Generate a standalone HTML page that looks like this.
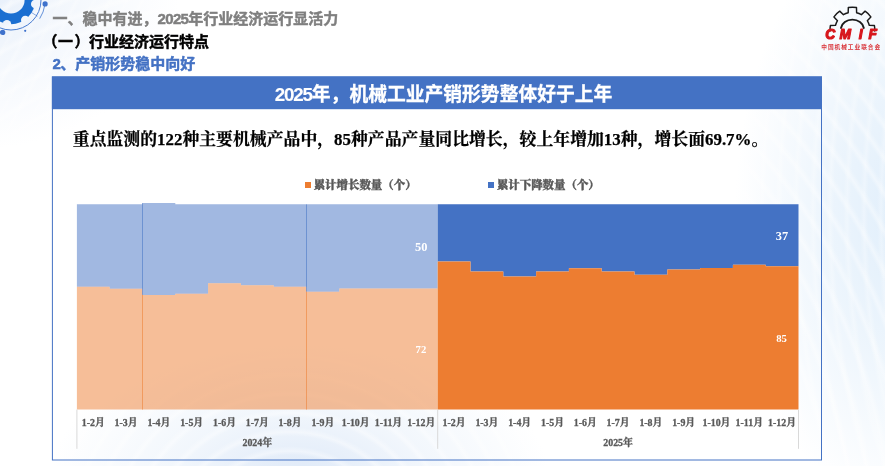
<!DOCTYPE html>
<html lang="zh-CN">
<head>
<meta charset="utf-8">
<title>2025年，机械工业产销形势整体好于上年</title>
<style>
html,body{margin:0;padding:0;}
body{width:885px;height:466px;overflow:hidden;background:#fff;position:relative;font-family:"Liberation Sans","Noto Sans CJK SC",sans-serif;}
.bg{position:absolute;left:0;top:0;width:885px;height:466px;
background:
 repeating-linear-gradient(118deg, rgba(255,255,255,0) 0px, rgba(255,255,255,0) 7px, rgba(255,255,255,.3) 10px, rgba(255,255,255,0) 14px, rgba(255,255,255,0) 23px, rgba(255,255,255,.2) 25px, rgba(255,255,255,0) 29px) 0 0/330px 200px no-repeat,
 repeating-radial-gradient(circle at 1010px 215px, rgba(255,255,255,0) 0px, rgba(255,255,255,0) 9px, rgba(255,255,255,.28) 13px, rgba(255,255,255,0) 17px) 700px 0/185px 466px no-repeat,
 repeating-radial-gradient(circle at 290px 560px, rgba(255,255,255,0) 0px, rgba(255,255,255,0) 10px, rgba(255,255,255,.4) 14px, rgba(255,255,255,0) 19px),
 radial-gradient(ellipse 170px 300px at 905px 215px, rgba(224,238,251,1) 0%, rgba(233,243,252,.85) 45%, rgba(255,255,255,0) 100%),
 radial-gradient(ellipse 250px 140px at 300px 480px, rgba(222,233,248,1) 0%, rgba(236,243,251,.7) 50%, rgba(255,255,255,0) 100%),
 radial-gradient(ellipse 210px 160px at -30px -10px, rgba(228,237,250,1) 0%, rgba(240,245,252,.8) 45%, rgba(255,255,255,0) 100%);
}
.h{position:absolute;white-space:nowrap;font-weight:bold;font-size:15px;line-height:22px;height:22px;margin:0;}
.h1{left:52.5px;top:8.3px;color:#7f7f7f;}
.h2{left:44px;top:31px;color:#000;}
.h3{left:52.5px;top:52.7px;color:#4472c4;}
.h{-webkit-text-stroke:0.45px currentColor;}
.n{letter-spacing:-0.65px;}
.p{position:relative;left:-1.6px;}
.p1{position:relative;left:-1.1px;}
.p2{position:relative;left:0.4px;}
.panel{position:absolute;left:52px;top:76.5px;width:768px;height:382px;border:1px solid #4472c4;}
.ptitle{position:absolute;left:52px;top:76.5px;width:770px;height:32.5px;color:#fff;font-weight:bold;font-size:18.8px;line-height:36.5px;text-align:center;white-space:nowrap;box-sizing:border-box;padding-left:12px;overflow:hidden;-webkit-text-stroke:0.3px #fff;}
.ptitle .n{letter-spacing:-1.15px;-webkit-text-stroke:0.1px #fff;margin-left:1px;}
.sub{position:absolute;left:72.8px;top:127.2px;-webkit-text-stroke:0.25px #000;white-space:nowrap;font-family:"Liberation Serif","Noto Serif CJK SC",serif;font-weight:bold;font-size:16.86px;line-height:26px;color:#000;margin:0;}
.lg{position:absolute;top:176px;height:18px;line-height:18px;white-space:nowrap;font-family:"Liberation Serif","Noto Serif CJK SC",serif;font-weight:900;font-size:11.45px;color:#595959;-webkit-text-stroke:0.4px #595959;}
.lg i{position:absolute;top:6px;width:6px;height:6.4px;display:block;}
.lg span{position:absolute;left:8.7px;top:0;}
.chart{position:absolute;left:0;top:0;}
.chart text{font-family:"Liberation Serif","Noto Serif CJK SC",serif;font-weight:bold;text-anchor:middle;}
.ax{font-size:9.9px;fill:#595959;font-weight:900;stroke:#595959;stroke-width:0.3px;}
.dl{font-size:10.7px;fill:#fff;}
.big{font-size:12.4px;}
.deco{position:absolute;left:0;top:0;}
</style>
</head>
<body>
<div class="bg"></div>
<svg class="deco" width="885" height="466" viewBox="0 0 885 466">
<defs><mask id="gm" maskUnits="userSpaceOnUse" x="-20" y="-30" width="70" height="70"><rect x="-20" y="-30" width="70" height="70" fill="#000"/><circle cx="11.0" cy="0.0" r="24.2" fill="#fff"/><circle cx="11.0" cy="0.0" r="13.6" fill="#000"/><circle cx="35.26" cy="4.06" r="4.3" fill="#000"/><circle cx="25.29" cy="20.03" r="4.3" fill="#000"/><circle cx="6.94" cy="24.26" r="4.3" fill="#000"/><circle cx="-9.03" cy="14.29" r="4.3" fill="#000"/><circle cx="-13.26" cy="-4.06" r="4.3" fill="#000"/><circle cx="-3.29" cy="-20.03" r="4.3" fill="#000"/><circle cx="15.06" cy="-24.26" r="4.3" fill="#000"/><circle cx="31.03" cy="-14.29" r="4.3" fill="#000"/></mask></defs>
<rect x="-20" y="-30" width="70" height="70" fill="#1b6fd1" mask="url(#gm)"/>
<circle cx="11.0" cy="0.0" r="30" fill="none" stroke="#3f76cf" stroke-width="0.95"/>
<path d="M44.87,4.76 A34.2,34.2 0 0 1 39.68,18.63" fill="none" stroke="#3f76cf" stroke-width="0.8"/>
<path d="M31.04,12.28 L37.43,16.20" fill="none" stroke="#3f76cf" stroke-width="0.6"/>
<circle cx="45.1" cy="3.9" r="2.6" fill="#3f72cc"/>
<circle cx="2.6" cy="32.4" r="2.7" fill="#3f72cc"/>
<circle cx="25.2" cy="30.8" r="1.1" fill="#3f72cc"/>
<path d="M830.04,30.97 A22.4,22.4 0 0 1 830.38,25.52 L835.52,25.39 A17.4,17.4 0 0 1 837.49,20.64 L833.94,16.91 A22.4,22.4 0 0 1 839.71,11.14 L843.44,14.69 A17.4,17.4 0 0 1 848.19,12.72 L848.32,7.58 A22.4,22.4 0 0 1 856.48,7.58 L856.61,12.72 A17.4,17.4 0 0 1 861.36,14.69 L865.09,11.14 A22.4,22.4 0 0 1 870.86,16.91 L867.31,20.64 A17.4,17.4 0 0 1 869.28,25.39 L874.42,25.52 A22.4,22.4 0 0 1 874.76,30.97 " fill="none" stroke="#1a1a1a" stroke-width="1.45" stroke-linejoin="round" stroke-linecap="round"/>
<path d="M841.00,28.00 A11.5,9.6 0 0 1 863.80,28.00" fill="none" stroke="#1a1a1a" stroke-width="1.9" stroke-linecap="round"/>
<text x="825.2 839.4 858.8 868.6" y="38.9" font-family="'Liberation Sans',sans-serif" font-weight="bold" font-style="italic" font-size="13.8" fill="#d7161c" stroke="#d7161c" stroke-width="1.1" stroke-linejoin="round">CMIF</text>
<text x="851.2" y="48.6" text-anchor="middle" font-family="'Liberation Sans','Noto Sans CJK SC',sans-serif" font-weight="bold" font-size="5.7" letter-spacing="0.95" fill="#d9353a">中国机械工业联合会</text>
</svg>
<div class="h h1">一、稳中有进，<span class="n">2025</span>年行业经济运行显活力</div>
<div class="h h2"><span class="p">（</span><span class="p1">一</span><span class="p2">）</span>行业经济运行特点</div>
<div class="h h3"><span class="n">2</span>、产销形势稳中向好</div>
<svg class="chart" width="885" height="466" viewBox="0 0 885 466"><rect x="52.4" y="77" width="769.1" height="383" fill="none" stroke="#4472c4" stroke-width="1"/><rect x="51.9" y="76.4" width="770.1" height="32.8" fill="#4472c4"/></svg>
<div class="ptitle"><span class="n">2025</span>年，机械工业产销形势整体好于上年</div>
<p class="sub">重点监测的122种主要机械产品中，85种产品产量同比增长，较上年增加13种，增长面69.7%。</p>
<div class="lg" style="left:305px"><i style="background:#ed7d31"></i><span>累计增长数量（个）</span></div>
<div class="lg" style="left:488.2px"><i style="background:#4472c4"></i><span>累计下降数量（个）</span></div>
<svg class="chart" width="885" height="466" viewBox="0 0 885 466">
<polygon points="76.9,204.3 109.7,204.3 109.7,204.3 142.5,204.3 142.5,203.1 175.3,203.1 175.3,204.3 208.1,204.3 208.1,204.3 240.9,204.3 240.9,204.3 273.7,204.3 273.7,204.3 306.5,204.3 306.5,204.3 339.3,204.3 339.3,204.3 372.1,204.3 372.1,204.3 404.9,204.3 404.9,204.3 437.7,204.3 437.7,288.5 404.9,288.5 404.9,288.5 372.1,288.5 372.1,288.5 339.3,288.5 339.3,291.7 306.5,291.7 306.5,286.8 273.7,286.8 273.7,285.2 240.9,285.2 240.9,283.3 208.1,283.3 208.1,293.7 175.3,293.7 175.3,294.9 142.5,294.9 142.5,288.8 109.7,288.8 109.7,286.8 76.9,286.8" fill="#4472c4" fill-opacity="0.5"/>
<polygon points="76.9,286.8 109.7,286.8 109.7,288.8 142.5,288.8 142.5,294.9 175.3,294.9 175.3,293.7 208.1,293.7 208.1,283.3 240.9,283.3 240.9,285.2 273.7,285.2 273.7,286.8 306.5,286.8 306.5,291.7 339.3,291.7 339.3,288.5 372.1,288.5 372.1,288.5 404.9,288.5 404.9,288.5 437.7,288.5 437.7,409.6 76.9,409.6" fill="#ed7d31" fill-opacity="0.5"/>
<polygon points="437.7,204.3 798.5,204.3 798.5,266.3 765.7,266.3 765.7,264.8 732.9,264.8 732.9,268.0 700.1,268.0 700.1,269.5 667.3,269.5 667.3,274.7 634.5,274.7 634.5,271.5 601.7,271.5 601.7,268.3 568.9,268.3 568.9,271.5 536.1,271.5 536.1,276.4 503.3,276.4 503.3,271.5 470.5,271.5 470.5,261.4 437.7,261.4" fill="#4472c4"/>
<polygon points="437.7,261.4 470.5,261.4 470.5,271.5 503.3,271.5 503.3,276.4 536.1,276.4 536.1,271.5 568.9,271.5 568.9,268.3 601.7,268.3 601.7,271.5 634.5,271.5 634.5,274.7 667.3,274.7 667.3,269.5 700.1,269.5 700.1,268.0 732.9,268.0 732.9,264.8 765.7,264.8 765.7,266.3 798.5,266.3 798.5,409.6 437.7,409.6" fill="#ed7d31"/>
<rect x="142.0" y="203.1" width="1" height="91.8" fill="#4472c4" fill-opacity="0.55"/>
<rect x="142.0" y="294.9" width="1" height="114.7" fill="#ed7d31" fill-opacity="0.55"/>
<rect x="306.0" y="204.4" width="1" height="87.3" fill="#4472c4" fill-opacity="0.55"/>
<rect x="306.0" y="291.7" width="1" height="117.9" fill="#ed7d31" fill-opacity="0.55"/>
<g fill="#d9d9d9">
<rect x="76.4" y="409.6" width="1" height="39.2"/>
<rect x="437.2" y="409.6" width="1" height="39.2"/>
<rect x="798.0" y="409.6" width="1" height="39.2"/>
</g>
<text x="93.3" y="426.1" class="ax">1-2月</text>
<text x="126.1" y="426.1" class="ax">1-3月</text>
<text x="158.9" y="426.1" class="ax">1-4月</text>
<text x="191.7" y="426.1" class="ax">1-5月</text>
<text x="224.5" y="426.1" class="ax">1-6月</text>
<text x="257.3" y="426.1" class="ax">1-7月</text>
<text x="290.1" y="426.1" class="ax">1-8月</text>
<text x="322.9" y="426.1" class="ax">1-9月</text>
<text x="355.7" y="426.1" class="ax">1-10月</text>
<text x="388.5" y="426.1" class="ax">1-11月</text>
<text x="421.3" y="426.1" class="ax">1-12月</text>
<text x="454.1" y="426.1" class="ax">1-2月</text>
<text x="486.9" y="426.1" class="ax">1-3月</text>
<text x="519.7" y="426.1" class="ax">1-4月</text>
<text x="552.5" y="426.1" class="ax">1-5月</text>
<text x="585.3" y="426.1" class="ax">1-6月</text>
<text x="618.1" y="426.1" class="ax">1-7月</text>
<text x="650.9" y="426.1" class="ax">1-8月</text>
<text x="683.7" y="426.1" class="ax">1-9月</text>
<text x="716.5" y="426.1" class="ax">1-10月</text>
<text x="749.3" y="426.1" class="ax">1-11月</text>
<text x="782.1" y="426.1" class="ax">1-12月</text>
<text x="257.3" y="445.6" class="ax">2024年</text>
<text x="618.1" y="445.6" class="ax">2025年</text>
<text x="421.2" y="251.0" class="dl big">50</text>
<text x="420.9" y="352.9" class="dl">72</text>
<text x="781.9" y="240.0" class="dl big">37</text>
<text x="781.6" y="342.1" class="dl">85</text>
</svg>
</body>
</html>
